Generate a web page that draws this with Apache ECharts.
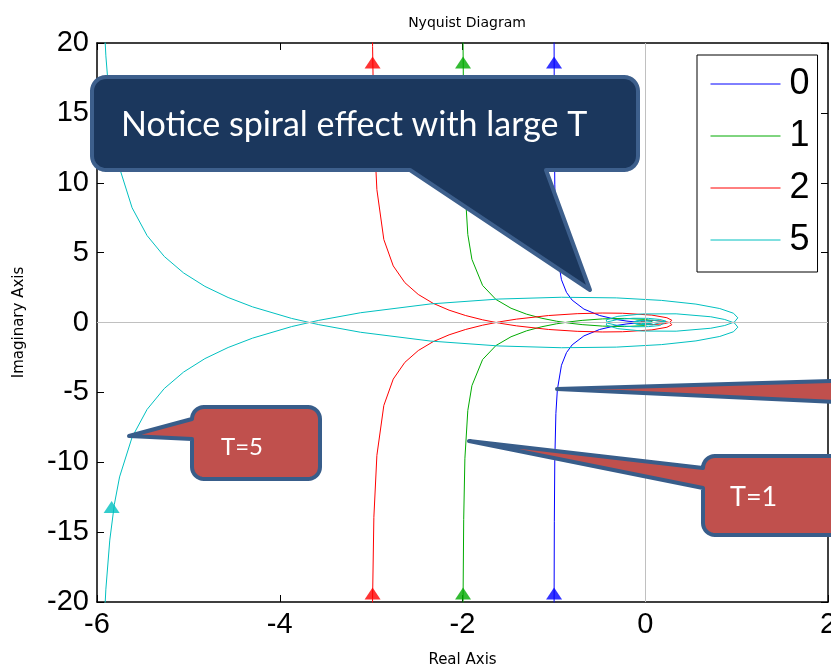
<!DOCTYPE html>
<html><head><meta charset="utf-8">
<script src="https://cdn.jsdelivr.net/npm/echarts@6/dist/echarts.min.js"></script>
<style>html,body{margin:0;padding:0;background:#fff}#c{width:831px;height:670px}</style>
</head><body><div id="c"></div>
<script>
// Nyquist plot of the positive-frequency branch [Re, Im] for each delay T
const seriesNames = ['0', '1', '2', '5'];
const branchT0 = [[-0.998,-22.18],[-0.9975,-19.95],[-0.995,-14.22],[-0.990,-9.90],[-0.978,-6.52],[-0.962,-4.81],[-0.917,-3.06],[-0.862,-2.155],[-0.800,-1.600],[-0.671,-0.959],[-0.500,-0.500],[-0.308,-0.205],[-0.200,-0.100],[-0.100,-0.033],[-0.038,-0.008],[-0.010,-0.001],[0,0]];
const branchT1 = [[-1.996,-22.11],[-1.994,-19.88],[-1.987,-14.11],[-1.974,-9.75],[-1.942,-6.30],[-1.897,-4.52],[-1.780,-2.65],[-1.634,-1.649],[-1.469,-1.020],[-1.299,-0.596],[-1.131,-0.301],[-0.972,-0.094],[-0.824,0.051],[-0.691,0.151],[-0.467,0.258],[-0.226,0.293],[-0.008,0.224],[0.077,0.127],[0.094,0.047],[0.078,-0.006],[0.049,-0.035],[-0.004,-0.039],[-0.025,-0.012],[0.0003,0.0155],[0,0]];
const branchT2 = [[-2.988,-22.0],[-2.984,-19.75],[-2.970,-13.94],[-2.937,-9.51],[-2.861,-5.94],[-2.758,-4.05],[-2.631,-2.853],[-2.484,-2.006],[-2.322,-1.373],[-2.147,-0.883],[-1.965,-0.497],[-1.779,-0.191],[-1.592,0.051],[-1.409,0.241],[-1.059,0.498],[-0.745,0.631],[-0.471,0.678],[-0.248,0.662],[0.072,0.529],[0.237,0.341],[0.291,0.159],[0.269,0.013],[0.207,-0.086],[0.087,-0.150],[-0.017,-0.137],[-0.087,-0.060],[-0.072,0.033],[-0.006,0.060],[0,0]];
const branchT5 = [[-5.921,-21.4],[-5.903,-19.08],[-5.860,-15.57],[-5.810,-13.01],[-5.753,-11.05],[-5.616,-8.21],[-5.452,-6.22],[-5.264,-4.725],[-5.052,-3.545],[-4.819,-2.584],[-4.565,-1.790],[-4.297,-1.117],[-3.871,-0.294],[-3.573,0.153],[-3.115,0.699],[-2.346,1.331],[-1.602,1.679],[-0.918,1.806],[-0.317,1.761],[0.177,1.583],[0.555,1.317],[0.816,0.999],[0.966,0.660],[1.013,0.334],[0.976,0.035],[0.870,-0.215],[0.717,-0.411],[0.338,-0.621],[-0.031,-0.611],[-0.300,-0.441],[-0.428,-0.191],[-0.413,0.047],[-0.298,0.220],[-0.132,0.304],[0.034,0.296],[0.159,0.218],[0.224,0.100],[0.222,-0.025],[0.077,-0.172],[-0.092,-0.131],[-0.138,0.009],[-0.056,0.107],[0.054,0.090],[0.077,-0.042],[-0.032,-0.067],[-0.037,0.048],[0,0]];
// direction arrows (upward triangles) on each curve
const arrowsBottom = [[-0.998,-19.4],[-1.994,-19.4],[-2.984,-19.4],[-5.84,-13.2]];
const arrowsTop = [[-0.998,18.6],[-1.994,18.6],[-2.984,18.6],[-5.84,13.2]];
const xTicks = {min:-6, max:2, step:2};
const yTicks = {min:-20, max:20, step:5};
const colors = ['#0000ff', '#00aa00', '#ff0000', '#00c0c0'];
const branches = [branchT0, branchT1, branchT2, branchT5];

// full curve: positive branch then its mirror image (negative frequencies)
function fullCurve(b){
  const mirror = b.slice().reverse().map(p => [p[0], -p[1]]);
  return b.concat(mirror);
}

function bubble(x0,y0,x1,y1,r,ptr){
  const pts=[];
  const arc=(cx,cy,a0,a1)=>{for(let i=0;i<=8;i++){const t=(a0+(a1-a0)*i/8)*Math.PI/180;pts.push([cx+r*Math.cos(t),cy+r*Math.sin(t)]);}};
  arc(x1-r,y0+r,-90,0);
  arc(x1-r,y1-r,0,90);
  if(ptr.side==='bottom'){pts.push([ptr.b,y1],ptr.tip,[ptr.a,y1]);}
  arc(x0+r,y1-r,90,180);
  if(ptr.side==='left'){pts.push([x0,ptr.b],ptr.tip,[x0,ptr.a]);}
  arc(x0+r,y0+r,180,270);
  return pts;
}

const chart = echarts.init(document.getElementById('c'));
const axisFont = {fontFamily:'Liberation Sans', fontSize:29, color:'#000'};
const series = branches.map((b,i)=>({
  name: seriesNames[i], type:'line', data: fullCurve(b), symbol:'none', showSymbol:false,
  lineStyle:{color:colors[i], width:1}, itemStyle:{color:colors[i]}, color:colors[i], z:3, clip:true, animation:false
}));
series.push({type:'line', data:[], silent:true, z:1,
  markLine:{silent:true, symbol:'none', label:{show:false}, animation:false,
    lineStyle:{color:'#c0c0c0', type:'solid', width:1},
    data:[{xAxis:0},{yAxis:0}]}});
series.push({type:'scatter', symbol:'triangle', symbolSize:[16,12], z:4, animation:false, silent:true,
  data: arrowsBottom.concat(arrowsTop).map((p,i)=>({value:p, itemStyle:{color:colors[i%4]}}))});

const bigBubble = bubble(92,77,638,170,14,{side:'bottom',a:410,b:546,tip:[590,290]});
const t5Bubble = bubble(192,407,320,479,12,{side:'left',a:419,b:439,tip:[129,436]});
const t1Bubble = bubble(703,456,850,535,12,{side:'left',a:468,b:488,tip:[469,441]});
const offBubble = bubble(835,350,900,440,12,{side:'left',a:381,b:402,tip:[557,389]});

chart.setOption({
  animation:false,
  title:{text:'Nyquist Diagram', left:462, top:11, textAlign:'center',
    textStyle:{fontFamily:'DejaVu Sans', fontSize:14, fontWeight:'normal', color:'#000'}},
  grid:{left:97, right:3, top:43, bottom:68, containLabel:false, outerBoundsMode:'none'},
  legend:{show:true, orient:'vertical', left:697, top:55, data:seriesNames, backgroundColor:'#fff',
    borderColor:'#000', borderWidth:1, borderRadius:0, padding:[11,8,14,13],
    itemWidth:70, itemHeight:36, itemGap:16, z:50,
    itemStyle:{opacity:0}, lineStyle:{width:1, opacity:1},
    textStyle:{fontFamily:'Liberation Sans', fontSize:36, color:'#000', padding:[0,0,0,4]}, selectedMode:false},
  xAxis:[
    {type:'value', min:xTicks.min, max:xTicks.max, interval:xTicks.step, position:'bottom',
     name:'Real Axis', nameLocation:'middle', nameGap:51,
     nameTextStyle:{fontFamily:'DejaVu Sans', fontSize:15, color:'#000'},
     axisLine:{show:true, onZero:false, lineStyle:{color:'#000', width:1.5}},
     axisTick:{show:true, inside:true, length:7, lineStyle:{color:'#000'}},
     axisLabel:Object.assign({margin:8}, axisFont), splitLine:{show:false}},
    {type:'value', min:xTicks.min, max:xTicks.max, interval:xTicks.step, position:'top',
     axisLine:{show:true, onZero:false, lineStyle:{color:'#000', width:1.5}},
     axisTick:{show:true, inside:true, length:7, lineStyle:{color:'#000'}},
     axisLabel:{show:false}, splitLine:{show:false}}
  ],
  yAxis:[
    {type:'value', min:yTicks.min, max:yTicks.max, interval:yTicks.step, position:'left',
     name:'Imaginary Axis', nameLocation:'middle', nameGap:70, nameRotate:90,
     nameTextStyle:{fontFamily:'DejaVu Sans', fontSize:15, color:'#000'},
     axisLine:{show:true, onZero:false, lineStyle:{color:'#000', width:1.5}},
     axisTick:{show:true, inside:true, length:7, lineStyle:{color:'#000'}},
     axisLabel:Object.assign({margin:8}, axisFont), splitLine:{show:false}},
    {type:'value', min:yTicks.min, max:yTicks.max, interval:yTicks.step, position:'right',
     axisLine:{show:true, onZero:false, lineStyle:{color:'#000', width:1.5}},
     axisTick:{show:true, inside:true, length:7, lineStyle:{color:'#000'}},
     axisLabel:{show:false}, splitLine:{show:false}}
  ],
  series: series,
  graphic:[
    {type:'polygon', z:100, shape:{points:bigBubble}, style:{fill:'#1b375d', stroke:'#3d5f8c', lineWidth:4, lineJoin:'round'}},
    {type:'text', z:101, x:121, y:125, style:{text:'Notice spiral effect with large T', fill:'#fff', font:'34px Lato', align:'left', verticalAlign:'middle'}},
    {type:'polygon', z:100, shape:{points:t5Bubble}, style:{fill:'#c0504d', stroke:'#385d8a', lineWidth:4, lineJoin:'round'}},
    {type:'text', z:101, x:221, y:447, style:{text:'T=5', fill:'#fff', font:'24px Lato', align:'left', verticalAlign:'middle'}},
    {type:'polygon', z:100, shape:{points:t1Bubble}, style:{fill:'#c0504d', stroke:'#385d8a', lineWidth:4, lineJoin:'round'}},
    {type:'text', z:101, x:730, y:497, style:{text:'T=1', fill:'#fff', font:'27px Lato', align:'left', verticalAlign:'middle'}},
    {type:'polygon', z:100, shape:{points:offBubble}, style:{fill:'#c0504d', stroke:'#385d8a', lineWidth:4, lineJoin:'round'}}
  ]
});
</script></body></html>
